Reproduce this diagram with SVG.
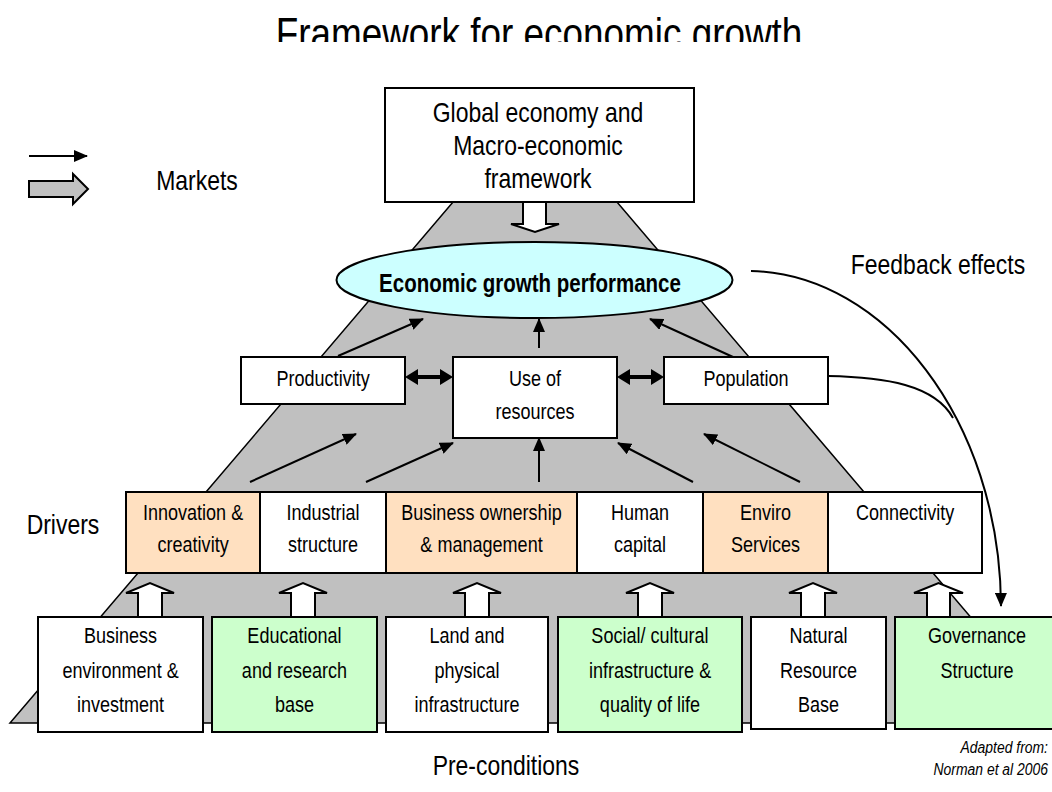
<svg xmlns="http://www.w3.org/2000/svg" width="1052" height="792" viewBox="0 0 1052 792">
<defs>
<style>
.t{font-family:"Liberation Sans Narrow","Liberation Sans",Arial,sans-serif;fill:#000;text-anchor:middle;transform-box:fill-box;transform-origin:center;transform:scaleX(0.82);}
.r{text-anchor:end;transform-origin:right center;}
.s22{font-size:22px;}
.s28{font-size:28px;}
.b{stroke:#000;stroke-width:2;}
.w{fill:#fff;}
.peach{fill:#FFE0C0;}
.green{fill:#CCFFCC;}
.gray{fill:#C0C0C0;stroke:#000;stroke-width:1.5;}
.ln{fill:none;stroke:#000;stroke-width:2;}
.fat{fill:#fff;stroke:#000;stroke-width:2;stroke-linejoin:miter;}
</style>
<marker id="ah" viewBox="0 0 14 12" refX="13" refY="6" markerWidth="14" markerHeight="12" markerUnits="userSpaceOnUse" orient="auto"><path d="M0,0 L14,6 L0,12 Z" fill="#000"/></marker>
<clipPath id="tc"><rect x="0" y="0" width="1052" height="42"/></clipPath>
</defs>
<rect x="0" y="0" width="1052" height="792" fill="#fff"/>

<g id="title" clip-path="url(#tc)"><text class="t" x="539" y="49" font-size="45">Framework for economic growth</text></g>

<g id="pyramid">
<polygon class="gray" points="459,195 611,195 864,492 206,492"/>
<polygon class="gray" points="138,573 933,573 1061,723 10,723"/>
</g>

<g id="legend">
<line class="ln" x1="29" y1="156" x2="87" y2="156" marker-end="url(#ah)"/>
<polygon points="29,181 73,181 73,174 88,189 73,204 73,197 29,197" fill="#C0C0C0" stroke="#000" stroke-width="2"/>
<text class="t s28" x="197" y="190">Markets</text>
</g>

<g id="global">
<rect class="b w" x="385" y="88" width="309" height="114"/>
<text class="t s28" x="538" y="122">Global economy and</text>
<text class="t s28" x="538" y="155">Macro-economic</text>
<text class="t s28" x="538" y="188">framework</text>
</g>

<g id="growth">
<ellipse cx="534.5" cy="280" rx="198" ry="38" fill="#CCFFFF" stroke="#000" stroke-width="2"/>
<text class="t" x="530" y="292" font-size="25" font-weight="bold">Economic growth performance</text>
</g>

<g id="productivity">
<rect class="b w" x="241" y="357" width="164" height="47"/>
<text class="t s22" x="323" y="386">Productivity</text>
</g>
<g id="use-of-resources">
<rect class="b w" x="453" y="357" width="164" height="81"/>
<text class="t s22" x="535" y="386">Use of</text>
<text class="t s22" x="535" y="419">resources</text>
</g>
<g id="population">
<rect class="b w" x="664" y="357" width="164" height="47"/>
<text class="t s22" x="746" y="386">Population</text>
</g>

<g id="drivers-label"><text class="t s28" x="63" y="534">Drivers</text></g>
<g id="innovation">
<rect class="b peach" x="126" y="492" width="134" height="81"/>
<text class="t s22" x="193" y="520">Innovation &amp;</text>
<text class="t s22" x="193" y="552">creativity</text>
</g>
<g id="industrial">
<rect class="b w" x="260" y="492" width="126" height="81"/>
<text class="t s22" x="323" y="520">Industrial</text>
<text class="t s22" x="323" y="552">structure</text>
</g>
<g id="business-ownership">
<rect class="b peach" x="386" y="492" width="191" height="81"/>
<text class="t s22" x="481.5" y="520">Business ownership</text>
<text class="t s22" x="481.5" y="552">&amp; management</text>
</g>
<g id="human">
<rect class="b w" x="577" y="492" width="126" height="81"/>
<text class="t s22" x="640" y="520">Human</text>
<text class="t s22" x="640" y="552">capital</text>
</g>
<g id="enviro">
<rect class="b peach" x="703" y="492" width="125" height="81"/>
<text class="t s22" x="765.5" y="520">Enviro</text>
<text class="t s22" x="765.5" y="552">Services</text>
</g>
<g id="connectivity">
<rect class="b w" x="828" y="492" width="154" height="81"/>
<text class="t s22" x="905" y="520">Connectivity</text>
</g>

<g id="business-environment">
<rect class="b w" x="38" y="617" width="165" height="115"/>
<text class="t s22" x="120.5" y="643">Business</text>
<text class="t s22" x="120.5" y="678">environment &amp;</text>
<text class="t s22" x="120.5" y="712">investment</text>
</g>
<g id="educational">
<rect class="b green" x="212" y="617" width="165" height="115"/>
<text class="t s22" x="294.5" y="643">Educational</text>
<text class="t s22" x="294.5" y="678">and research</text>
<text class="t s22" x="294.5" y="712">base</text>
</g>
<g id="land">
<rect class="b w" x="386" y="617" width="162" height="115"/>
<text class="t s22" x="467" y="643">Land and</text>
<text class="t s22" x="467" y="678">physical</text>
<text class="t s22" x="467" y="712">infrastructure</text>
</g>
<g id="social">
<rect class="b green" x="558" y="617" width="184" height="115"/>
<text class="t s22" x="650" y="643">Social/ cultural</text>
<text class="t s22" x="650" y="678">infrastructure &amp;</text>
<text class="t s22" x="650" y="712">quality of life</text>
</g>
<g id="natural">
<rect class="b w" x="751" y="617" width="135" height="112"/>
<text class="t s22" x="818.5" y="643">Natural</text>
<text class="t s22" x="818.5" y="678">Resource</text>
<text class="t s22" x="818.5" y="712">Base</text>
</g>
<g id="governance">
<rect class="b green" x="895" y="617" width="170" height="112"/>
<text class="t s22" x="977" y="643">Governance</text>
<text class="t s22" x="977" y="678">Structure</text>
</g>

<g id="connectors">
<polygon class="fat" points="523,202 546,202 546,224 559,224 535,232 511,224 523,224"/>
<line class="ln" x1="338" y1="356" x2="423" y2="319" marker-end="url(#ah)"/>
<line class="ln" x1="539" y1="348" x2="539" y2="319" marker-end="url(#ah)"/>
<line class="ln" x1="733" y1="357" x2="650" y2="319" marker-end="url(#ah)"/>
<line class="ln" x1="250" y1="482" x2="356" y2="434" marker-end="url(#ah)"/>
<line class="ln" x1="366" y1="482" x2="453" y2="443" marker-end="url(#ah)"/>
<line class="ln" x1="539" y1="482" x2="539" y2="438" marker-end="url(#ah)"/>
<line class="ln" x1="693" y1="482" x2="618" y2="443" marker-end="url(#ah)"/>
<line class="ln" x1="800" y1="482" x2="704" y2="434" marker-end="url(#ah)"/>
<polygon points="405,377 418,369 418,375 440,375 440,369 453,377 440,385 440,379 418,379 418,385" fill="#000"/>
<polygon points="617,377 630,369 630,375 651,375 651,369 664,377 651,385 651,379 630,379 630,385" fill="#000"/>
<polygon class="fat" points="138,617 138,593 126,593 150,583 174,593 162,593 162,617"/>
<polygon class="fat" points="291,617 291,593 279,593 303,583 327,593 315,593 315,617"/>
<polygon class="fat" points="465,617 465,593 453,593 477,583 501,593 489,593 489,617"/>
<polygon class="fat" points="638,617 638,593 626,593 650,583 674,593 662,593 662,617"/>
<polygon class="fat" points="801,617 801,593 789,593 813,583 837,593 825,593 825,617"/>
<polygon class="fat" points="927,617 927,593 914,593 938.5,583 963,593 950,593 950,617"/>
<path class="ln" d="M751,271 C885,274 1000,420 1001,606" marker-end="url(#ah)"/>
<path class="ln" d="M828,376 C885,377 935,385 953,418"/>
</g>

<g id="footer">
<text class="t s28" x="506" y="775">Pre-conditions</text>
<text class="t r" x="1048" y="753" font-size="17" font-style="italic">Adapted from:</text>
<text class="t r" x="1048" y="775" font-size="17" font-style="italic">Norman et al 2006</text>
</g>

<g id="feedback-label"><text class="t s28" x="938" y="274">Feedback effects</text></g>
</svg>
